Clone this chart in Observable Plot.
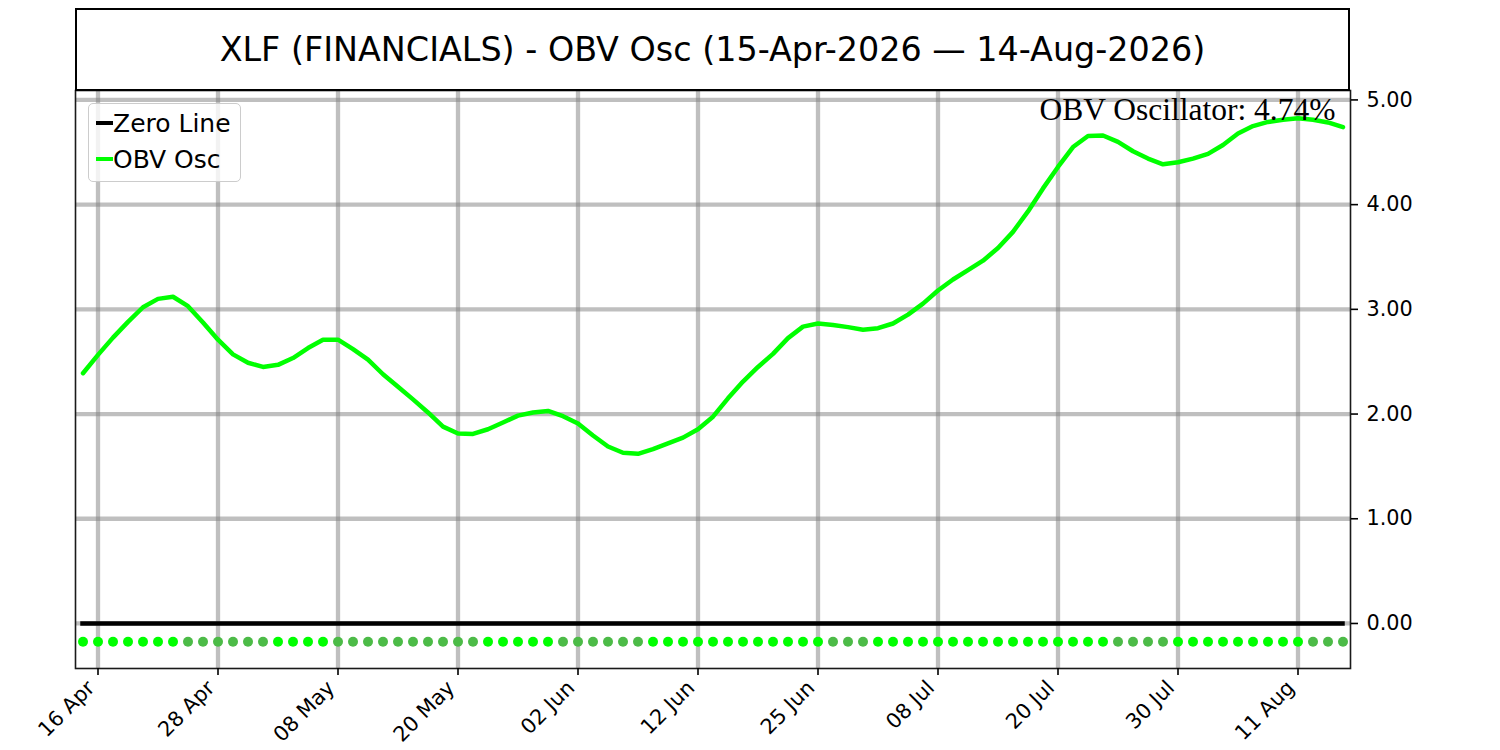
<!DOCTYPE html>
<html>
<head>
<meta charset="utf-8">
<script src="https://cdn.jsdelivr.net/npm/d3@7"></script>
<script src="https://cdn.jsdelivr.net/npm/@observablehq/plot@0.6"></script>
<style>
  body { margin: 0; background: #fff; font-family: "DejaVu Sans", sans-serif; }
  #wrap { position: relative; width: 1500px; height: 750px; }
  #chart { position: absolute; left: 0; top: 0; }
  #title {
    position: absolute; left: 75px; top: 8px; width: 1275px; height: 83px;
    box-sizing: border-box; border: 2px solid #000;
    display: flex; align-items: center; justify-content: center;
    font-size: 33.4px; color: #000;
  }
  #legend {
    position: absolute; left: 88px; top: 103px; width: 153px; height: 79px;
    box-sizing: border-box; border: 1px solid #cccccc; border-radius: 5px;
    background: rgba(255, 255, 255, 0.8); font-size: 25px; color: #000;
  }
  #legend .row { position: absolute; left: 7px; height: 30px; display: flex; align-items: center; }
  #legend .sw { display: inline-block; width: 17px; height: 4px; }
</style>
</head>
<body>
<div id="wrap">
  <div id="chart"></div>
  <div id="title">XLF (FINANCIALS) - OBV Osc (15-Apr-2026 — 14-Aug-2026)</div>
  <div id="legend">
    <div class="row" style="top:4px"><span class="sw" style="background:#000"></span>Zero Line</div>
    <div class="row" style="top:40px"><span class="sw" style="background:#00ff00"></span>OBV Osc</div>
  </div>
</div>
<script>
// OBV oscillator, one value per trading day (15 Apr -> 14 Aug 2026)
const oscValues = [
  2.39, 2.565, 2.73, 2.88, 3.02, 3.10, 3.12, 3.03, 2.875, 2.71,
  2.57, 2.49, 2.45, 2.47, 2.535, 2.63, 2.71, 2.71, 2.62, 2.52,
  2.38, 2.26, 2.14, 2.015, 1.88, 1.815, 1.81, 1.855, 1.92, 1.985,
  2.015, 2.03, 1.98, 1.91, 1.795, 1.69, 1.63, 1.62, 1.665, 1.72,
  1.775, 1.855, 1.975, 2.15, 2.31, 2.45, 2.575, 2.725, 2.835, 2.865,
  2.85, 2.83, 2.805, 2.82, 2.865, 2.95, 3.055, 3.18, 3.285, 3.375,
  3.465, 3.585, 3.74, 3.935, 4.155, 4.36, 4.55, 4.655, 4.66, 4.60,
  4.51, 4.44, 4.385, 4.405, 4.44, 4.485, 4.57, 4.68, 4.75, 4.79,
  4.81, 4.825, 4.81, 4.785, 4.74
]

// dot row under the zero line: "up" = bright, "down" = dull green
const dotStates = [
  "up","up","up","up","up","up","up","down","down","down",
  "down","down","down","up","up","up","up","down","down","down",
  "down","down","down","down","down","down","down","up","up","up",
  "up","up","down","down","down","down","down","down","up","up",
  "up","up","up","up","up","up","up","up","up","up",
  "down","down","down","up","up","up","up","up","up","up",
  "up","up","up","up","up","up","up","up","up","down",
  "down","down","down","up","up","up","up","up","up","up",
  "up","up","down","down","down"
]
const dotLevel = -0.175

// x ticks (trading-day index) and their labels
const tickIdx = [1, 9, 17, 25, 33, 41, 49, 57, 65, 73, 81]
const tickLabels = ["16 Apr", "28 Apr", "08 May", "20 May", "02 Jun", "12 Jun",
                    "25 Jun", "08 Jul", "20 Jul", "30 Jul", "11 Aug"]
const yTicks = [0, 1, 2, 3, 4, 5]

const lastVal = oscValues[oscValues.length - 1]
const gridStyle = { stroke: "gray", strokeOpacity: 0.5, strokeWidth: 4.3 }

const chart = Plot.plot({
  width: 1500,
  height: 750,
  marginLeft: 75,
  marginRight: 150,
  marginTop: 90,
  marginBottom: 82,
  x: { domain: [-0.5, oscValues.length - 0.5], axis: null },
  y: { domain: [-0.43, 5.09], axis: null },
  style: { fontFamily: "DejaVu Sans, sans-serif", color: "black", background: "white" },
  marks: [
    Plot.gridX({ ticks: tickIdx, ...gridStyle }),
    Plot.gridY({ ticks: yTicks, ...gridStyle }),
    Plot.ruleY([0], { x1: [0], x2: [oscValues.length - 1], stroke: "black", strokeWidth: 4.5, strokeLinecap: "square" }),
    Plot.line(oscValues, { x: (d, i) => i, y: d => d, stroke: "#00ff00", strokeWidth: 4.5, strokeLinejoin: "round" }),
    Plot.dot(dotStates, { x: (d, i) => i, y: () => dotLevel, r: 5, fill: d => d === "up" ? "#00ff00" : "#4cbb47", stroke: null }),
    Plot.frame({ stroke: "#1a1a1a", strokeWidth: 1.6 }),
    Plot.axisY({ ticks: yTicks, anchor: "right", tickSize: 7, tickPadding: 9, fontSize: 20.8,
      tickFormat: d => d.toFixed(2), label: null, strokeWidth: 1.6 }),
    Plot.axisX({ ticks: tickIdx, anchor: "bottom", tickSize: 7, tickFormat: () => "", label: null, strokeWidth: 1.6 }),
    Plot.text(tickIdx, { x: d => d, frameAnchor: "bottom", text: (d, i) => tickLabels[i],
      rotate: -45, textAnchor: "end", lineAnchor: "middle", dx: -7, dy: 16, fontSize: 20.8 }),
    Plot.text([`OBV Oscillator: ${lastVal.toFixed(2)}%`], { frameAnchor: "top-right", text: d => d,
      textAnchor: "end", lineAnchor: "top", dx: -15, dy: 7, fontFamily: "Liberation Serif, serif", fontSize: 31.5 })
  ]
})

d3.select('#chart').append(() => chart)
</script>
</body>
</html>
